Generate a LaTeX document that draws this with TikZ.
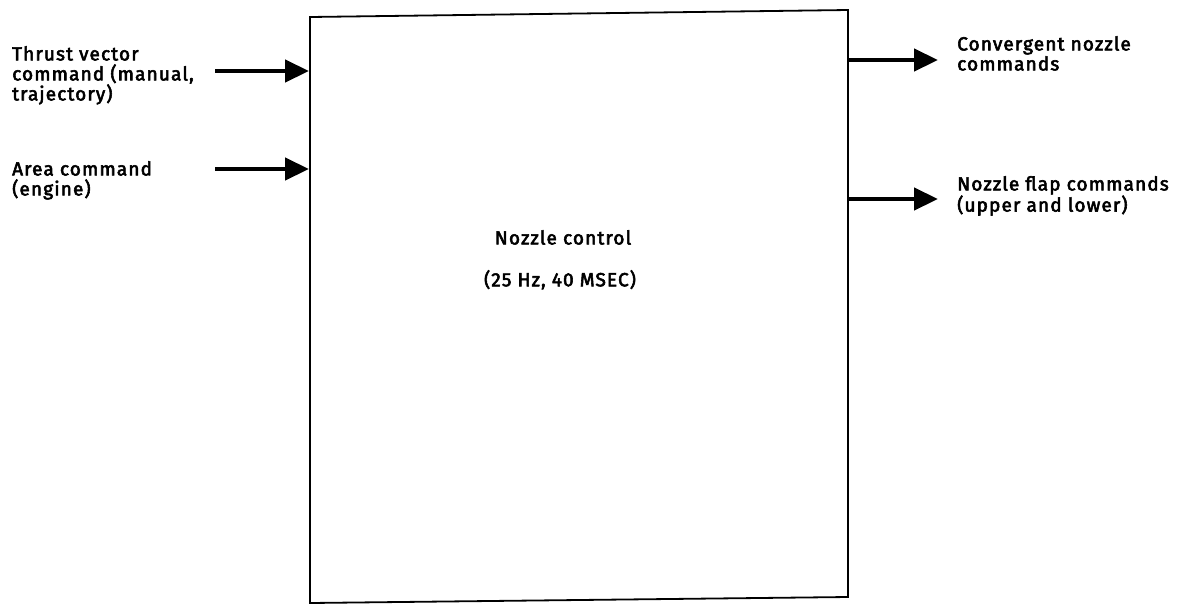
\documentclass[tikz,border=0pt]{standalone}
\usepackage{fontspec}
\setmainfont{Fira Sans}[AutoFakeBold=3, LetterSpace=6]
\usetikzlibrary{arrows.meta}
\tikzset{
  lab/.style={font=\bfseries\fontsize{19}{20}\selectfont, align=left, inner sep=0pt},
  flow/.style={line width=4.4pt, -{Triangle[length=24pt,width=22pt]}},
  blk/.style={draw, line width=1.8pt}
}
\begin{document}
\begin{tikzpicture}[x=1pt,y=-1pt]
\useasboundingbox (0,0) rectangle (1204,606);
\draw[blk] (310,17) -- (848,10) -- (848,597) -- (310,603) -- cycle;
\node[lab, anchor=north west] (tv) at (12,46) {Thrust vector\\command (manual,\\trajectory)};
\node[lab, anchor=north west] (ac) at (12,161) {Area command\\(engine)};
\node[lab, anchor=north west] (cn) at (957,36) {Convergent nozzle\\commands};
\node[lab, anchor=north west] (nf) at (957,176) {Nozzle flap commands\\(upper and lower)};
\node[lab, anchor=north] (nc) at (563,230) {Nozzle control};
\node[lab, anchor=north] (hz) at (560,270) {(25 Hz, 40 MSEC)};
\coordinate (i1s) at (215,71); \coordinate (i1e) at (309,71);
\coordinate (i2s) at (215,169); \coordinate (i2e) at (309,169);
\coordinate (o1s) at (849,60); \coordinate (o1e) at (938,60);
\coordinate (o2s) at (849,199); \coordinate (o2e) at (938,199);
\draw[flow] (i1s) -- (i1e);
\draw[flow] (i2s) -- (i2e);
\draw[flow] (o1s) -- (o1e);
\draw[flow] (o2s) -- (o2e);
\end{tikzpicture}
\end{document}
